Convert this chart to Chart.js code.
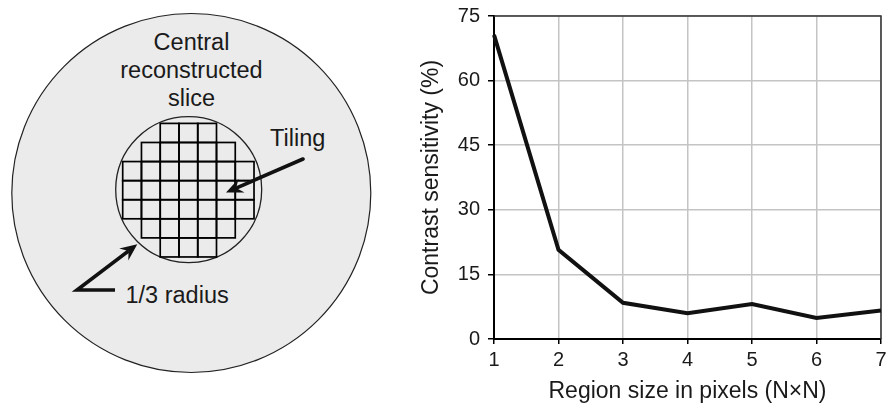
<!DOCTYPE html>
<html><head><meta charset="utf-8">
<script src="https://cdn.jsdelivr.net/npm/chart.js@4/dist/chart.umd.min.js"></script>
<style>
html,body{margin:0;padding:0;background:#fff;}
#wrap{position:relative;width:887px;height:405px;overflow:hidden;background:#fff;}
#diagram{position:absolute;left:0;top:0;}
#chart{position:absolute;left:380px;top:0;}
</style></head><body>
<div id="wrap">
<svg id="diagram" width="380" height="405" xmlns="http://www.w3.org/2000/svg"></svg>
<canvas id="chart" width="507" height="405"></canvas>
</div>
<script>
// ---- Data ----
const categories = ['1', '2', '3', '4', '5', '6', '7'];
const contrastSensitivity = [70.6, 20.7, 8.4, 6.0, 8.1, 4.9, 6.6];
const yTickValues = [0, 15, 30, 45, 60, 75];
const xTitle = 'Region size in pixels (N\u00d7N)';
const yTitle = 'Contrast sensitivity (%)';
const diagramLabels = ['Central', 'reconstructed', 'slice'];
const tilingLabel = 'Tiling';
const radiusLabel = '1/3 radius';
const tileRowSpans = [[2, 4], [1, 5], [0, 6], [0, 6], [0, 6], [1, 5], [2, 4]];

const FONT = '"Liberation Sans", Arial, Helvetica, sans-serif';
const TXT = '#1a1a1a';

// ---- Left diagram (SVG) ----
(function () {
  const NS = 'http://www.w3.org/2000/svg';
  const svg = document.getElementById('diagram');
  function el(tag, attrs, text) {
    const e = document.createElementNS(NS, tag);
    for (const k in attrs) e.setAttribute(k, attrs[k]);
    if (text !== undefined) e.textContent = text;
    svg.appendChild(e);
    return e;
  }
  el('circle', {cx: 191.3, cy: 193, r: 179.5, fill: '#ebebeb', stroke: '#222', 'stroke-width': 1.2});
  el('circle', {cx: 188.7, cy: 189.6, r: 73, fill: '#ebebeb', stroke: '#222', 'stroke-width': 1.3});
  const x0 = 122.7, cw = 18.76, y0 = 123.4, rh = 19.08;
  tileRowSpans.forEach((span, r) => {
    for (let c = span[0]; c <= span[1]; c++) {
      el('rect', {x: x0 + c * cw, y: y0 + r * rh, width: cw, height: rh, fill: 'none', stroke: '#000', 'stroke-width': 1.7});
    }
  });
  function arrowHead(tip, from) {
    const dx = tip[0] - from[0], dy = tip[1] - from[1];
    const L = Math.hypot(dx, dy), ux = dx / L, uy = dy / L;
    const px = -uy, py = ux;
    const back = 17, half = 7.5, notch = 11;
    const b1 = [tip[0] - back * ux + half * px, tip[1] - back * uy + half * py];
    const b2 = [tip[0] - back * ux - half * px, tip[1] - back * uy - half * py];
    const n = [tip[0] - notch * ux, tip[1] - notch * uy];
    el('polygon', {points: [tip, b1, n, b2].map(p => p.join(',')).join(' '), fill: '#111'});
    return n;
  }
  // Tiling arrow
  const t1 = [303, 159], tTip = [226, 192.5];
  const tn = arrowHead(tTip, t1);
  el('path', {d: `M${t1[0]},${t1[1]} L${tn[0]},${tn[1]}`, stroke: '#111', 'stroke-width': 3.6, fill: 'none', 'stroke-linecap': 'round'});
  // Radius arrow
  const r0 = [115, 290], rE = [77, 290], rTip = [137.3, 244.3];
  const rn = arrowHead(rTip, rE);
  el('path', {d: `M${r0[0]},${r0[1]} L${rE[0]},${rE[1]} L${rn[0]},${rn[1]}`, stroke: '#111', 'stroke-width': 3.6, fill: 'none', 'stroke-linejoin': 'miter', 'stroke-linecap': 'butt'});
  const fontAttrs = {'font-family': FONT, 'font-size': 23.5, fill: TXT};
  const baselines = [49.5, 78, 106.3];
  diagramLabels.forEach((t, i) => el('text', Object.assign({x: 191.5, y: baselines[i], 'text-anchor': 'middle'}, fontAttrs), t));
  el('text', Object.assign({x: 270, y: 145.6}, fontAttrs), tilingLabel);
  el('text', Object.assign({x: 125.5, y: 303}, fontAttrs), radiusLabel);
})();

// ---- Chart ----
const framePlugin = {
  id: 'frame',
  beforeDatasetsDraw(chart) {
    const {ctx, chartArea: a} = chart;
    ctx.save();
    ctx.strokeStyle = '#333';
    ctx.lineWidth = 1.5;
    ctx.beginPath();
    ctx.moveTo(a.left, a.top);
    ctx.lineTo(a.right, a.top);
    ctx.lineTo(a.right, a.bottom);
    ctx.stroke();
    ctx.restore();
  }
};

new Chart(document.getElementById('chart'), {
  type: 'line',
  data: {
    labels: categories,
    datasets: [{
      data: contrastSensitivity,
      borderColor: '#111',
      borderWidth: 4,
      pointRadius: 0,
      tension: 0,
      fill: false
    }]
  },
  options: {
    responsive: false,
    animation: false,
    layout: {padding: 0},
    plugins: {legend: {display: false}, tooltip: {enabled: false}},
    scales: {
      x: {
        type: 'category',
        offset: false,
        grid: {color: '#c4c4c4', lineWidth: 1.5, tickLength: 5, tickColor: '#000', tickWidth: 1.5, drawTicks: true},
        border: {color: '#000', width: 2},
        ticks: {font: {family: FONT, size: 20}, color: TXT, padding: 4, maxRotation: 0, autoSkip: false},
        title: {display: true, text: xTitle, font: {family: FONT, size: 23}, color: TXT, padding: {top: 0, bottom: 0}},
        afterFit(s) { s.height = 66; s.paddingLeft = 0; s.paddingRight = 6; }
      },
      y: {
        type: 'linear',
        min: 0,
        max: 75,
        afterBuildTicks(s) { s.ticks = yTickValues.map(v => ({value: v})); },
        grid: {color: '#c4c4c4', lineWidth: 1.5, tickLength: 6, tickColor: '#000', tickWidth: 1.5, drawTicks: true},
        border: {color: '#000', width: 2},
        ticks: {font: {family: FONT, size: 20}, color: TXT, padding: 8},
        title: {display: true, text: yTitle, font: {family: FONT, size: 23}, color: TXT, padding: {top: 38, bottom: 0}},
        afterFit(s) { s.width = 114; s.paddingTop = 16; s.paddingBottom = 0; }
      }
    }
  },
  plugins: [framePlugin]
});
</script>
</body></html>
